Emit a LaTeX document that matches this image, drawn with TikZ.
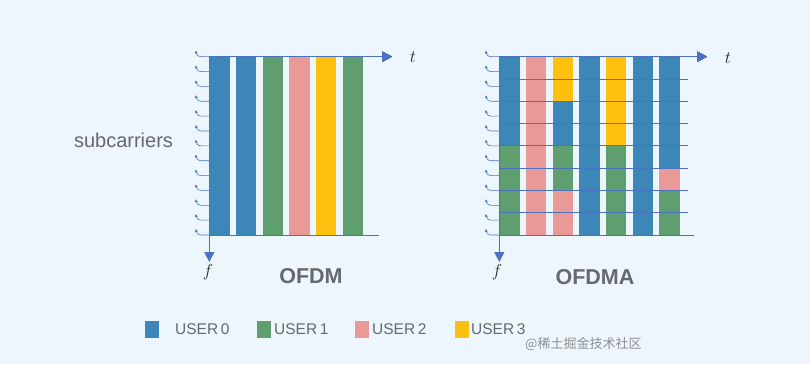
\documentclass[tikz,border=0pt]{standalone}
\usepackage{fontspec}
\setmainfont{Liberation Sans}
\newfontfamily\cjk{Noto Sans CJK SC}
\usetikzlibrary{arrows.meta}
\definecolor{bg}{HTML}{EEF6FD}
\definecolor{ublue}{HTML}{3C87B7}
\definecolor{ugreen}{HTML}{5F9E6E}
\definecolor{upink}{HTML}{EA9A96}
\definecolor{uyellow}{HTML}{FDC00F}
\definecolor{axiscol}{HTML}{4A72C0}
\definecolor{txt}{HTML}{65686D}
\definecolor{wm}{HTML}{8C8E91}
\newcommand{\hookat}[2]{\draw[hookline] (#1,#2) -- ({#1-8},#2) .. controls ({#1-12},#2) and ({#1-13},{#2-3}) .. ({#1-13.5},{#2-6});}
\newcommand{\seg}[4]{\fill[#4] ({499.3+26.67*#1},{56.7+22.29*#2}) rectangle ({519.8+26.67*#1},{56.7+22.29*#3});}
\begin{document}
\begin{tikzpicture}[x=1pt,y=-1pt,
  axisline/.style={draw=axiscol,line width=1pt},
  hookline/.style={draw=axiscol,line width=0.6pt,-{Stealth[length=3pt,width=3pt]}},
  axarrow/.style={axisline,-{Triangle[length=10pt,width=10pt]}},
  lbl/.style={text=txt,inner sep=0pt},
  leg/.style={lbl,anchor=west,font=\fontsize{15.5}{15.5}\selectfont},
  varlbl/.style={inner sep=0pt,text=black!85,font=\fontsize{19}{19}\selectfont}]
\fill[white] (0,0) rectangle (810,369);
\fill[bg] (0,0) rectangle (810,364);
\useasboundingbox (0,0) rectangle (810,369);

% ---------- OFDM ----------
\coordinate (o1) at (209.3,56.7);
\coordinate (t1) at (392,56.7);
\coordinate (f1) at (209.3,262);
\coordinate (b1a) at (209.3,235);
\coordinate (b1b) at (379,235);
\foreach \c [count=\i from 0] in {ublue,ublue,ugreen,upink,uyellow,ugreen}
  \fill[\c] ({209.3+26.67*\i},56.7) rectangle ({229.8+26.67*\i},235);
\foreach \k in {0,...,12} \hookat{209.3}{56.7+14.86*\k}
\draw[axarrow] (o1) -- (t1);
\draw[axarrow] (o1) -- (f1);
\draw[axisline] (b1a) -- (b1b);
\node[varlbl] (tl1) at (413,57) {$t$};
\node[varlbl] (fl1) at (208,272) {$f$};
\node[lbl,font=\bfseries\fontsize{21.5}{21.5}\selectfont] (ofdm) at (311,276) {OFDM};
\node[lbl,font=\fontsize{20}{20}\selectfont] (sub) at (123.5,140) {subcarriers};

% ---------- OFDMA ----------
\coordinate (o2) at (499.3,56.7);
\coordinate (t2) at (707,56.7);
\coordinate (f2) at (499.3,262);
\coordinate (b2a) at (499.3,235);
\coordinate (b2b) at (694,235);
\seg{0}{0}{4}{ublue}\seg{0}{4}{8}{ugreen}
\seg{1}{0}{8}{upink}
\seg{2}{0}{2}{uyellow}\seg{2}{2}{4}{ublue}\seg{2}{4}{6}{ugreen}\seg{2}{6}{8}{upink}
\seg{3}{0}{8}{ublue}
\seg{4}{0}{4}{uyellow}\seg{4}{4}{8}{ugreen}
\seg{5}{0}{8}{ublue}
\seg{6}{0}{5}{ublue}\seg{6}{5}{6}{upink}\seg{6}{6}{8}{ugreen}
\foreach \k in {1,...,7}
  \draw[axiscol,line width=0.8pt] (499.3,{56.7+22.29*\k}) -- (688,{56.7+22.29*\k});
\foreach \k in {0,...,12} \hookat{499.3}{56.7+14.86*\k}
\draw[axarrow] (o2) -- (t2);
\draw[axarrow] (o2) -- (f2);
\draw[axisline] (b2a) -- (b2b);
\node[varlbl] (tl2) at (728,58) {$t$};
\node[varlbl] (fl2) at (497,272) {$f$};
\node[lbl,font=\bfseries\fontsize{21.5}{21.5}\selectfont] (ofdma) at (595,277) {OFDMA};

% ---------- legend ----------
\fill[ublue] (145,321) rectangle (159,338);
\fill[ugreen] (257,321) rectangle (271,338);
\fill[upink] (355,321) rectangle (369,338);
\fill[uyellow] (455,321) rectangle (469,338);
\node[leg] (u0) at (175,329.5) {USER\,0};
\node[leg] (u1) at (274,329.5) {USER\,1};
\node[leg] (u2) at (372,329.5) {USER\,2};
\node[leg] (u3) at (471,329.5) {USER\,3};
\node[inner sep=0pt,anchor=west,text=wm,font=\cjk\fontsize{13}{13}\selectfont] (wmk) at (525,344) {@稀土掘金技术社区};
\end{tikzpicture}
\end{document}
